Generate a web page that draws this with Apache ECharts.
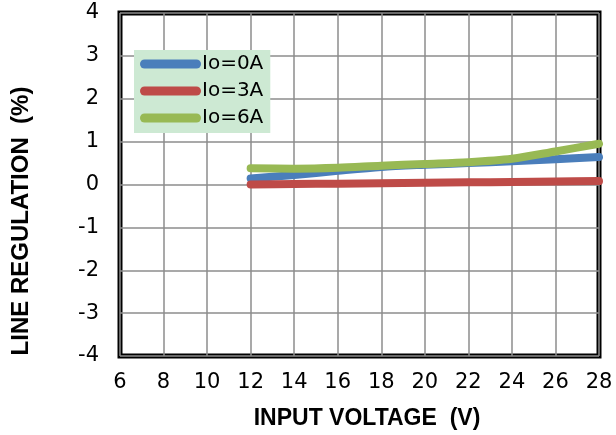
<!DOCTYPE html>
<html>
<head>
<meta charset="utf-8">
<script src="https://cdn.jsdelivr.net/npm/echarts@6/dist/echarts.min.js"></script>
<style>
html,body{margin:0;padding:0;background:#fff;}
#c{width:616px;height:435px;}
</style>
</head>
<body>
<div id="c"></div>
<script>
var voltage = [12, 14, 16, 18, 20, 22, 24, 26, 28];
var io0A = [0.14, 0.22, 0.32, 0.41, 0.46, 0.50, 0.54, 0.59, 0.64];
var io3A = [0.00, 0.01, 0.02, 0.03, 0.04, 0.05, 0.06, 0.07, 0.08];
var io6A = [0.38, 0.37, 0.39, 0.44, 0.48, 0.52, 0.60, 0.77, 0.95];
var seriesNames = ['Io=0A', 'Io=3A', 'Io=6A'];
var colors = ['#4a7ebb', '#be4b48', '#98b954'];
var xTitle = 'INPUT VOLTAGE  (V)';
var yTitle = 'LINE REGULATION  (%)';

function pairs(xs, ys) { return xs.map(function (x, i) { return [x, ys[i]]; }); }

var chart = echarts.init(document.getElementById('c'));
var font = '"DejaVu Sans", sans-serif';
var titleFont = 'Arial, "Liberation Sans", sans-serif';
var pill = 'path://M4.5,0 L56.5,0 A4.5,4.5 0 0 1 56.5,9 L4.5,9 A4.5,4.5 0 0 1 4.5,0 Z';
var data = [io0A, io3A, io6A];
chart.setOption({
  animation: false,
  grid: { left: 120, right: 17, top: 13, bottom: 79, show: true, borderColor: '#000', borderWidth: 5, backgroundColor: '#fff' },
  legend: {
    orient: 'vertical', left: 134, top: 50,
    padding: [3, 7, 4, 6],
    backgroundColor: '#cde9d3',
    itemWidth: 61, itemHeight: 9, itemGap: 5,
    icon: pill,
    textStyle: { fontFamily: font, fontSize: 20, color: '#000', lineHeight: 22, padding: [0, 0, 0, -4] },
    data: seriesNames
  },
  xAxis: {
    type: 'value', min: 6, max: 28, interval: 2,
    axisLine: { show: false }, axisTick: { show: false },
    axisLabel: { fontFamily: font, fontSize: 21, color: '#000', margin: 16 },
    splitLine: { show: true, lineStyle: { color: '#8c8c8c', width: 1.5 } }
  },
  yAxis: {
    type: 'value', min: -4, max: 4, interval: 1,
    axisLine: { show: false }, axisTick: { show: false },
    axisLabel: { fontFamily: font, fontSize: 21, color: '#000', margin: 21 },
    splitLine: { show: true, lineStyle: { color: '#8c8c8c', width: 1.5 } }
  },
  graphic: [
    { type: 'text', x: 367, y: 419, style: { text: xTitle, fontFamily: titleFont, fontSize: 23, fontWeight: 'bold', fill: '#000', align: 'center', verticalAlign: 'middle' } },
    { type: 'text', x: 21, y: 221, rotation: Math.PI / 2, style: { text: yTitle, fontFamily: titleFont, fontSize: 24, fontWeight: 'bold', fill: '#000', align: 'center', verticalAlign: 'middle' } }
  ],
  series: seriesNames.map(function (n, i) {
    return {
      name: n, type: 'line', smooth: 0.3, showSymbol: false, symbol: 'none',
      data: pairs(voltage, data[i]),
      lineStyle: { color: colors[i], width: 8, cap: 'round', join: 'round' },
      itemStyle: { color: colors[i] }
    };
  })
});
</script>
</body>
</html>
